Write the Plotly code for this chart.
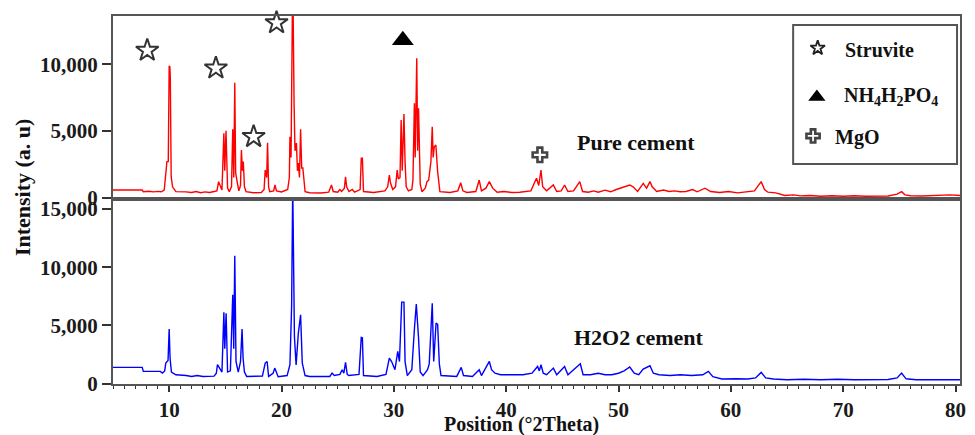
import plotly.graph_objects as go

# ---------------- data ----------------
pure_2theta = [5.0, 7.6, 7.7, 8.2, 8.6, 9.0, 9.3, 9.56, 9.8, 9.92, 10.0, 10.06, 10.1, 10.18, 10.3, 10.6,
               11.5, 12.0, 12.4, 12.8, 13.2, 13.6, 14.0, 14.25, 14.4, 14.55, 14.7, 14.87, 14.95, 15.06,
               15.2, 15.35, 15.55, 15.66, 15.75, 15.84, 15.92, 16.05, 16.2, 16.35, 16.43, 16.52, 16.6,
               16.7, 16.85, 17.5, 18.2, 18.45, 18.55, 18.68, 18.76, 18.85, 18.95, 19.3, 19.42, 19.55,
               20.0, 20.55, 20.7, 20.75, 20.85, 21.0, 21.07, 21.12, 21.2, 21.33, 21.42, 21.5, 21.6, 21.7,
               21.8, 21.9, 22.1, 22.5, 23.5, 24.2, 24.45, 24.6, 25.0, 25.2, 25.35, 25.6, 25.7, 25.8, 26.0,
               26.3, 26.5, 27.0, 27.1, 27.2, 27.3, 28.2, 29.2, 29.45, 29.6, 29.7, 29.9, 30.15, 30.3, 30.4,
               30.55, 30.65, 30.75, 30.9, 31.0, 31.1, 31.3, 31.6, 31.7, 31.83, 31.9, 32.04, 32.12, 32.2,
               32.35, 32.5, 32.8, 32.95, 33.1, 33.3, 33.42, 33.5, 33.6, 33.74, 33.9, 34.1, 35.0, 35.7,
               35.95, 36.15, 36.5, 37.3, 37.6, 37.8, 38.2, 38.5, 38.8, 39.2, 39.8, 40.5, 41.2, 41.7, 42.2,
               42.7, 42.9, 43.1, 43.25, 43.6, 44.2, 44.5, 44.9, 45.2, 45.5, 46.0, 46.55, 46.8, 47.3, 47.8,
               48.2, 48.8, 49.3, 49.8, 50.4, 51.0, 51.3, 51.7, 52.2, 52.5, 52.8, 53.0, 53.4, 54.0, 54.5,
               55.0, 55.5, 56.0, 56.6, 57.0, 57.7, 58.2, 59.0, 59.8, 60.6, 61.3, 61.7, 62.1, 62.7, 63.0,
               63.3, 64.0, 64.8, 65.6, 66.2, 67.0, 68.0, 69.0, 70.0, 71.0, 72.0, 73.0, 74.0, 74.8, 75.2,
               75.5, 76.0, 77.0, 78.0, 78.8, 79.5, 80.4]
pure_counts = [560, 560, 440, 470, 420, 460, 430, 560, 2690, 2690, 9860, 9800, 9060, 1560, 800, 440,
               420, 380, 450, 360, 420, 380, 450, 500, 1190, 800, 560, 4810, 2000, 5010,
               700, 440, 800, 5110, 1500, 8610, 1840, 1200, 500, 900, 3560, 2000, 2690,
               800, 440, 360, 380, 600, 2060, 1500, 4110, 800, 440, 500, 940, 500,
               420, 600, 1500, 4560, 3000, 17000, 7060, 7060, 3500, 4090, 2000, 2590, 1500, 5110,
               2210, 2210, 440, 360, 340, 400, 940, 450, 400, 600, 450, 700, 1560, 800, 450,
               600, 400, 600, 2940, 2940, 450, 380, 500, 800, 1690, 1100, 600, 800, 2060, 1400,
               1500, 5810, 2000, 6260, 2690, 800, 500, 600, 1300, 7060, 3000, 10440, 3500, 6690,
               1000, 440, 700, 1190, 1300, 2690, 5310, 3000, 3810, 3940, 1940, 440, 380, 500,
               1110, 500, 380, 450, 1310, 500, 700, 1190, 700, 400, 450, 380, 400, 450, 500,
               1440, 900, 2060, 810, 500, 940, 450, 500, 940, 450, 500, 1190, 450, 400, 500,
               400, 550, 430, 600, 800, 940, 800, 450, 1060, 700, 1190, 800, 450, 560, 450,
               500, 430, 450, 600, 430, 700, 450, 380, 450, 350, 400, 430, 500, 1190, 600,
               400, 350, 150, 200, 120, 150, 100, 130, 100, 130, 100, 120, 110, 250, 440,
               200, 130, 110, 130, 180, 200, 150]

h2o2_2theta = [5.0, 7.6, 7.7, 9.2, 9.4, 9.6, 9.7, 9.9, 10.0, 10.08, 10.2, 10.6, 11.5, 12.0, 12.5, 13.0,
               14.0, 14.2, 14.3, 14.5, 14.7, 14.87, 14.95, 15.07, 15.2, 15.45, 15.66, 15.75, 15.84, 15.95,
               16.15, 16.35, 16.49, 16.58, 16.7, 16.9, 18.3, 18.55, 18.72, 18.85, 19.25, 19.4, 19.55,
               19.7, 20.5, 20.75, 20.9, 21.0, 21.15, 21.3, 21.5, 21.7, 21.85, 22.1, 22.5, 24.3, 24.5,
               24.7, 25.2, 25.4, 25.55, 25.7, 25.85, 26.0, 26.9, 27.1, 27.2, 27.3, 28.5, 29.3, 29.6,
               29.8, 30.1, 30.35, 30.5, 30.7, 30.9, 31.0, 31.2, 31.6, 31.84, 32.0, 32.2, 32.35, 32.6,
               33.0, 33.15, 33.3, 33.42, 33.55, 33.76, 33.9, 34.05, 34.2, 35.6, 36.0, 36.2, 37.0, 37.6,
               37.8, 38.3, 38.5, 38.7, 39.0, 39.5, 41.5, 42.3, 42.8, 42.95, 43.1, 43.3, 43.6, 44.2,
               44.5, 45.2, 45.5, 46.6, 46.85, 47.5, 48.2, 48.8, 49.4, 50.0, 50.5, 51.0, 51.4, 51.8,
               52.2, 52.8, 53.1, 53.6, 54.6, 55.5, 56.5, 57.5, 58.0, 58.4, 59.2, 60.5, 61.5, 62.2,
               62.7, 63.1, 63.8, 65.0, 66.5, 68.0, 69.5, 71.0, 72.5, 74.0, 74.8, 75.2, 75.6, 76.5,
               78.0, 80.4]
h2o2_counts = [1400, 1400, 1055, 1055, 914, 1100, 1770, 2000, 4690, 2200, 1000, 770, 700, 625, 700, 625,
               650, 900, 1630, 1300, 1000, 6140, 3000, 6050, 1000, 1100, 7630, 3000, 10970, 1910,
               1000, 1900, 4690, 2200, 1000, 625, 650, 1770, 1910, 625, 900, 1340, 1000,
               600, 700, 1630, 6630, 17000, 4060, 1600, 4340, 5910, 1770, 700, 625, 625, 914,
               700, 800, 1200, 900, 1830, 800, 700, 800, 3970, 3940, 700, 625, 800, 2200,
               1900, 1200, 2770, 1900, 7000, 7000, 1900, 700, 1200, 4830, 6830, 3910, 1000, 700,
               1200, 1700, 4060, 6910, 1900, 5200, 5100, 1700, 700, 625, 1400, 700, 625, 1200,
               700, 1500, 1910, 1200, 900, 770, 770, 900, 1480, 1100, 1630, 900, 770, 1340,
               770, 1480, 770, 1710, 770, 770, 900, 770, 770, 900, 1100, 1430, 900, 770,
               1250, 1540, 900, 770, 700, 770, 700, 770, 1055, 600, 400, 430, 400, 500,
               970, 500, 400, 343, 380, 343, 380, 343, 380, 360, 500, 914, 420, 343,
               343, 343]

# phase identification markers (2theta, intensity on the pure-cement panel)
struvite_2theta = [8.05, 14.16, 17.52, 19.56]
struvite_counts = [11030, 9700, 4560, 13100]
nh4h2po4_2theta = [30.8]
nh4h2po4_counts = [11800]
mgo_2theta = [43.0]
mgo_counts = [3200]

x_ticks = [10, 20, 30, 40, 50, 60, 70, 80]
top_yticks = [0, 5000, 10000]
top_yticklabels = ["0", "5,000", "10,000"]
bot_yticks = [0, 5000, 10000, 15000]
bot_yticklabels = ["0", "5,000", "10,000", "15,000"]

# ---------------- figure ----------------
FONT = "Liberation Serif"
tick_font = dict(family=FONT, size=21, color="#1a1a1a", weight="bold")
frame = "#555555"
split = 0.5027

fig = go.Figure()

fig.add_trace(go.Scatter(x=pure_2theta, y=pure_counts, mode="lines",
                         line=dict(color="#ff0000", width=1.4), xaxis="x2", yaxis="y2",
                         showlegend=False, hoverinfo="skip"))
fig.add_trace(go.Scatter(x=h2o2_2theta, y=h2o2_counts, mode="lines",
                         line=dict(color="#0000ff", width=1.4), xaxis="x", yaxis="y",
                         showlegend=False, hoverinfo="skip"))

fig.add_trace(go.Scatter(x=struvite_2theta, y=struvite_counts, mode="markers",
                         marker=dict(symbol="star-open", size=17, color="#333333",
                                     line=dict(width=2, color="#333333")),
                         xaxis="x2", yaxis="y2", showlegend=False, cliponaxis=False))
fig.add_trace(go.Scatter(x=nh4h2po4_2theta, y=nh4h2po4_counts, mode="markers",
                         marker=dict(symbol="triangle-up", size=19, color="#000000"),
                         xaxis="x2", yaxis="y2", showlegend=False))
fig.add_trace(go.Scatter(x=mgo_2theta, y=mgo_counts, mode="markers",
                         marker=dict(symbol="cross-open", size=12, color="#444444",
                                     line=dict(width=2.6, color="#444444")),
                         xaxis="x2", yaxis="y2", showlegend=False))

# legend box symbols on a hidden axis spanning the whole plot area
fig.add_trace(go.Scatter(x=[0.832], y=[0.913], mode="markers",
                         marker=dict(symbol="star-open", size=11, color="#222",
                                     line=dict(width=1.8, color="#222")),
                         xaxis="x3", yaxis="y3", showlegend=False, cliponaxis=False))
fig.add_trace(go.Scatter(x=[0.831], y=[0.780], mode="markers",
                         marker=dict(symbol="triangle-up", size=15, color="#000"),
                         xaxis="x3", yaxis="y3", showlegend=False, cliponaxis=False))
fig.add_trace(go.Scatter(x=[0.8265], y=[0.674], mode="markers",
                         marker=dict(symbol="cross-open", size=11, color="#444",
                                     line=dict(width=2.6, color="#444")),
                         xaxis="x3", yaxis="y3", showlegend=False, cliponaxis=False))

axis_common = dict(showgrid=False, zeroline=False, showline=True, mirror=True,
                   linecolor=frame, linewidth=2)

fig.update_layout(
    width=975, height=435,
    margin=dict(l=113, r=9, t=16, b=51),
    paper_bgcolor="white", plot_bgcolor="rgba(0,0,0,0)",
    xaxis=dict(domain=[0, 1], anchor="y", range=[5, 80.4], tickvals=x_ticks,
               ticks="outside", ticklen=6, tickwidth=1.5, tickcolor="#333",
               minor=dict(dtick=1, ticks="outside", ticklen=3, tickwidth=1, tickcolor="#333"),
               tickfont=tick_font, **axis_common),
    xaxis2=dict(domain=[0, 1], anchor="y2", matches="x", range=[5, 80.4],
                showticklabels=False, ticks="", **axis_common),
    yaxis=dict(domain=[0, split], anchor="x", range=[-25, 15850], tickvals=bot_yticks,
               ticktext=bot_yticklabels, ticks="outside", ticklen=9, tickwidth=1.5,
               tickcolor="#333", tickfont=tick_font, **axis_common),
    yaxis2=dict(domain=[split, 1], anchor="x2", range=[-112, 13612], tickvals=top_yticks,
                ticktext=top_yticklabels, ticks="outside", ticklen=9, tickwidth=1.5,
                tickcolor="#333", tickfont=tick_font, **axis_common),
    xaxis3=dict(domain=[0, 1], anchor="y3", range=[0, 1], visible=False),
    yaxis3=dict(domain=[0, 1], anchor="x3", range=[0, 1], visible=False),
)

title_font = dict(family=FONT, size=20, color="#111", weight="bold")
ytitle_font = dict(family=FONT, size=22, color="#111", weight="bold")
label_font = dict(family=FONT, size=22, color="#111", weight="bold")
legend_font = dict(family=FONT, size=20, color="#111", weight="bold")

fig.add_annotation(text="Intensity (a. u)", textangle=-90, xref="paper", yref="paper",
                   x=-0.1067, y=0.534, xanchor="center", yanchor="middle",
                   showarrow=False, font=ytitle_font)
fig.add_annotation(text="Position (°2Theta)", xref="paper", yref="paper",
                   x=0.482, y=-0.1087, xanchor="center", yanchor="middle",
                   showarrow=False, font=title_font)
fig.add_annotation(text="Pure cement", xref="x2", yref="y2", x=46.1, y=4160,
                   xanchor="left", yanchor="middle", showarrow=False, font=label_font)
fig.add_annotation(text="H2O2 cement", xref="x", yref="y", x=45.9, y=3940,
                   xanchor="left", yanchor="middle", showarrow=False, font=label_font)

# legend box
fig.add_shape(type="rect", xref="paper", yref="paper", x0=0.803, x1=0.9965, y0=0.598, y1=0.9755,
              line=dict(color="#555", width=2), fillcolor="white", layer="below")
fig.add_annotation(text="Struvite", xref="paper", yref="paper", x=0.8617, y=0.9076,
                   xanchor="left", yanchor="middle", showarrow=False, font=legend_font)
fig.add_annotation(text="NH<sub>4</sub>H<sub>2</sub>PO<sub>4</sub>", xref="paper", yref="paper",
                   x=0.8605, y=0.7826, xanchor="left", yanchor="middle",
                   showarrow=False, font=legend_font)
fig.add_annotation(text="MgO", xref="paper", yref="paper", x=0.85, y=0.671,
                   xanchor="left", yanchor="middle", showarrow=False, font=legend_font)

fig.write_html("out.html")
